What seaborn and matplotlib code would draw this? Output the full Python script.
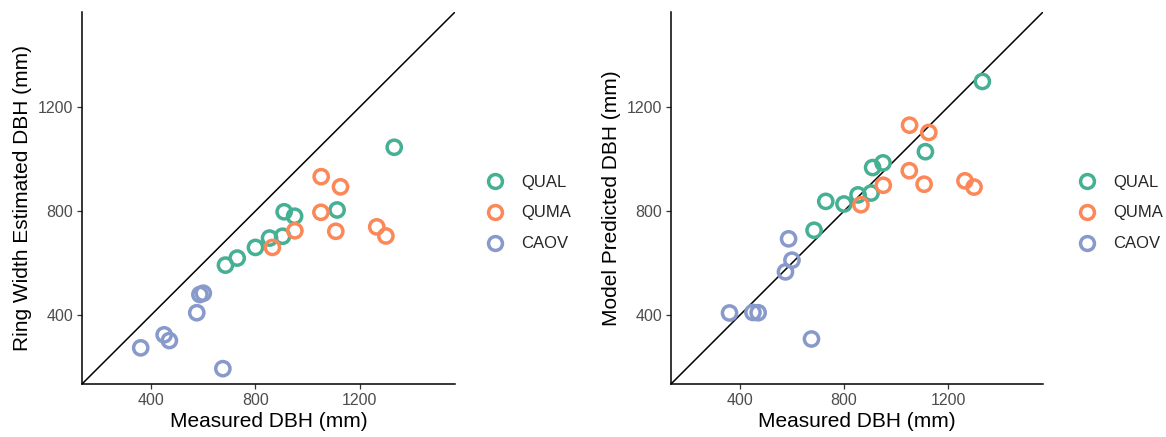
import matplotlib
matplotlib.use("Agg")
import matplotlib.pyplot as plt
from matplotlib.lines import Line2D
import seaborn as sns
import pandas as pd

# ---- data ----
species = ["QUAL"] * 9 + ["QUMA"] * 8 + ["CAOV"] * 7
measured = [1332, 1113, 910, 950, 854, 904, 800, 730, 685,
            1052, 1126, 1051, 951, 1108, 865, 1265, 1300,
            360, 450, 470, 575, 587, 600, 675]
ring_width_est = [1045, 804, 797, 780, 696, 703, 660, 619, 592,
                  932, 893, 795, 724, 722, 660, 739, 704,
                  274, 324, 302, 409, 479, 484, 194]
model_pred = [1298, 1028, 967, 985, 862, 869, 827, 837, 726,
              1130, 1102, 955, 899, 903, 824, 916, 892,
              408, 410, 409, 566, 693, 611, 308]
species_order = ["QUAL", "QUMA", "CAOV"]
colors = ["#45B093", "#FC8758", "#8899CB"]
ticks = [400, 800, 1200]
lims = (135, 1565)

df = pd.DataFrame({"species": species, "measured": measured,
                   "ring": ring_width_est, "model": model_pred})

sns.set_theme(style="ticks")
plt.rcParams["font.family"] = ["Liberation Sans", "DejaVu Sans"]

fig = plt.figure(figsize=(11.66, 4.37), dpi=100)
axes = [fig.add_axes([82 / 1166, 53 / 437, 373 / 1166, 372 / 437]),
        fig.add_axes([671 / 1166, 53 / 437, 372 / 1166, 372 / 437])]
ycols = ["ring", "model"]
ylabels = ["Ring Width Estimated DBH (mm)", "Model Predicted DBH (mm)"]
palette = dict(zip(species_order, colors))

for ax, ycol, ylab in zip(axes, ycols, ylabels):
    ax.plot(lims, lims, color="black", lw=1.1, zorder=1)
    sns.scatterplot(data=df, x="measured", y=ycol, hue="species",
                    hue_order=species_order, palette=palette, s=105,
                    marker="o", linewidth=2.5, legend=False, ax=ax, zorder=3)
    for coll in ax.collections:
        fc = coll.get_facecolors()
        coll.set_edgecolors(fc)
        coll.set_facecolors("none")
    ax.set_xlim(lims)
    ax.set_ylim(lims)
    ax.set_xticks(ticks)
    ax.set_yticks(ticks)
    ax.tick_params(axis="both", labelsize=11.5, labelcolor="#4D4D4D",
                   color="#333333", length=3.5, width=0.9, pad=3)
    for sp in ["top", "right"]:
        ax.spines[sp].set_visible(False)
    for sp in ["left", "bottom"]:
        ax.spines[sp].set_linewidth(1.1)
        ax.spines[sp].set_color("black")
    ax.set_xlabel("Measured DBH (mm)", fontsize=15, color="black", labelpad=3)
    ax.set_ylabel(ylab, fontsize=15, color="black", labelpad=4)

handles = [Line2D([], [], marker="o", linestyle="none", markersize=10,
                  markerfacecolor="none", markeredgecolor=c, markeredgewidth=2.5)
           for c in colors]
for xpos in [478 / 1166, 1070 / 1166]:
    fig.legend(handles, species_order, loc="center left",
               bbox_to_anchor=(xpos, (437 - 213) / 437), frameon=False,
               fontsize=12, handletextpad=1.0, labelspacing=0.95,
               handlelength=1.2, borderaxespad=0)

fig.savefig("out.png", dpi=100)
